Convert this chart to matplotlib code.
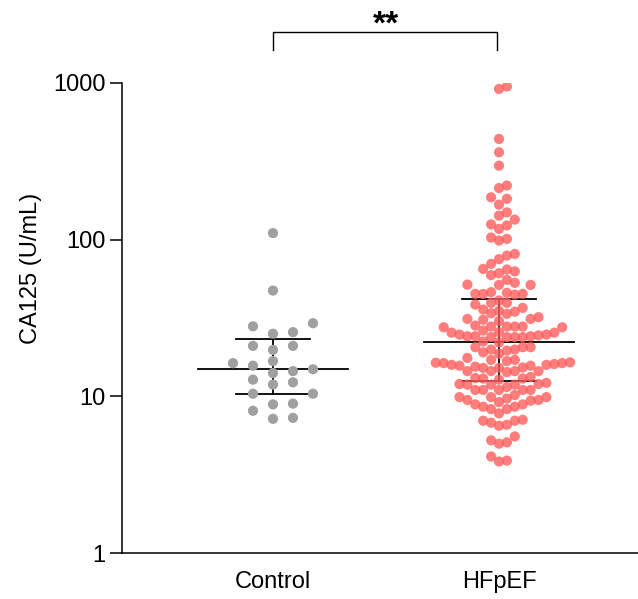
import numpy as np
import matplotlib
matplotlib.use('Agg')
import matplotlib.pyplot as plt
from matplotlib.transforms import blended_transform_factory

plt.rcParams['font.family'] = ['Liberation Sans', 'DejaVu Sans']

groups = ['Control', 'HFpEF']
control = [110, 47.3, 28, 29.3, 25.7, 25.1, 19.8, 21.0, 21.0, 16.3, 16.8, 14.1,
           15.7, 14.5, 14.9, 11.9, 12.8, 12.3, 10.4, 10.4, 9.0, 8.9, 8.1, 7.2, 7.3]
hfpef = [947, 912, 438, 360, 296, 221, 213, 186, 182, 167, 149, 142, 134, 125,
         123, 117, 103, 101, 98.6, 81, 79, 75, 70,
         65, 64.4, 62.7, 61, 59.3, 55.3, 53, 51.6, 51.4, 51.4,
         46.2, 45.8, 45.1, 45.1, 45, 44.6,
         40.9, 39.5, 39.5, 38.5,
         36.7, 35.8, 35.1, 34.7, 33.9, 33.6, 32, 31.2, 31.2, 30.8,
         30.2, 28.3, 27.9, 27.9, 27.9, 27.9, 27.6, 27.6,
         26.3, 25.7, 25.5, 25.5, 24.8, 24.8, 24.5, 24.2, 24.2, 24.2, 23.9, 23.9,
         23.9, 23.9,
         22.4, 22.1,
         20.6, 20.6, 20.6, 19.9, 19.9, 19.6, 19.1, 18.7,
         17.6, 17.1, 17.1, 16.8, 16.5, 16.4, 16.3, 16.3, 16.1, 15.9, 15.9, 15.7,
         15.7, 15.5, 15.3, 15.2, 15.2, 14.5, 14.5, 14.5, 14.5, 14.3,
         13.3, 13.1, 13.0, 13.0, 12.8, 12.2, 12.0, 12.0, 11.9, 11.9,
         11.9, 11.5, 11.0, 11.0, 11.0, 11.0, 11.0,
         10.2, 9.9, 9.9, 9.9, 9.7, 9.5, 9.5, 9.4, 9.2,
         8.9, 8.9, 8.6, 8.6, 8.3, 8.3, 7.8,
         7.1, 7.0, 7.0, 6.8, 6.6, 6.5,
         5.56, 5.25, 5.1, 5.0,
         4.14, 3.9, 3.85]
medians = [15.0, 22.2]
q1 = [10.4, 12.5]
q3 = [23.3, 41.8]
yticks = [1, 10, 100, 1000]
ytick_labels = ['1', '10', '100', '1000']
ylabel = 'CA125 (U/mL)'
sig_label = '**'

W, H = 638, 599
fig = plt.figure(figsize=(W / 100, H / 100), dpi=100)
ax_l, ax_r, ax_b, ax_t = 122, 638, 553.3, 82.7
ax = fig.add_axes([ax_l / W, (H - ax_b) / H, (ax_r - ax_l) / W, (ax_b - ax_t) / H])
ax.set_yscale('log')
ax.set_ylim(1, 1000)
ax.set_xlim(-0.668, 1.615)

px_per_x = (ax_r - ax_l) / (1.615 + 0.668)
px_per_dec = (ax_b - ax_t) / 3.0


def swarm(vals, spacing_px, sep_px):
    vals = np.asarray(vals, float)
    order = np.argsort(vals, kind='stable')
    placed = []
    offs = np.zeros(len(vals))
    cand = [0]
    for m in range(1, 60):
        cand += [m, -m]
    for i in order:
        y = np.log10(vals[i]) * px_per_dec
        for c in cand:
            if all(not (pc == c and abs(py - y) < sep_px) for pc, py in placed):
                break
        placed.append((c, y))
        offs[i] = c * spacing_px / px_per_x
    return offs


data = [control, hfpef]
colors = ['#a0a0a0', '#ff5c5c']
alphas = [1.0, 0.8]
spacings = [20, 7.9]
seps = [11, 10]
for gi, vals in enumerate(data):
    offs = swarm(vals, spacings[gi], seps[gi])
    ax.scatter(gi + offs, vals, s=54, color=colors[gi], alpha=alphas[gi],
               edgecolors='none', zorder=3)
    # median and IQR
    ax.plot([gi - 0.33, gi + 0.33], [medians[gi]] * 2, color='black', lw=1.3, zorder=2)
    ax.plot([gi - 0.165, gi + 0.165], [q1[gi]] * 2, color='black', lw=1.3, zorder=2)
    ax.plot([gi - 0.165, gi + 0.165], [q3[gi]] * 2, color='black', lw=1.3, zorder=2)
    ax.plot([gi, gi], [q1[gi], q3[gi]], color='black', lw=1.3, zorder=2)

ax.spines['top'].set_visible(False)
ax.spines['right'].set_visible(False)
for s in ['left', 'bottom']:
    ax.spines[s].set_linewidth(1.1)
ax.set_yticks(yticks)
ax.set_yticklabels(ytick_labels)
ax.yaxis.set_minor_locator(matplotlib.ticker.NullLocator())
ax.tick_params(axis='y', length=9, width=1.1, labelsize=17, pad=3)
ax.set_xticks([0, 1])
ax.set_xticklabels(groups)
ax.tick_params(axis='x', length=0, labelsize=17, pad=13)
ax.set_ylabel(ylabel, fontsize=17, va='center')
ax.yaxis.set_label_coords(-0.176, 0.606)

tr = blended_transform_factory(ax.transData, ax.transAxes)
ax.plot([0, 0, 0.99, 0.99], [1.070, 1.107, 1.107, 1.070], color='black', lw=1.0,
        transform=tr, clip_on=False)
ax.text(0.5, 1.122, sig_label, transform=tr, ha='center', va='center',
        fontsize=24, fontweight='bold')

fig.savefig('out.png', dpi=100)
